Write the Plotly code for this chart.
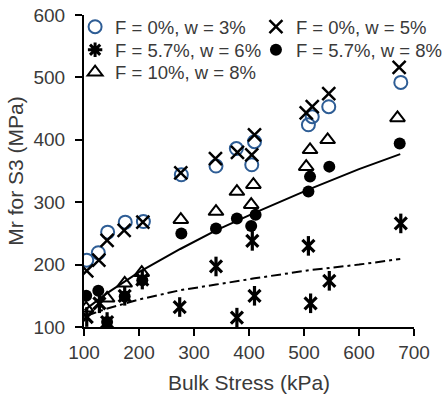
import plotly.graph_objects as go

# ---- data ----
x_f0_w3 = [105, 126, 143, 175, 208, 277, 340, 377, 405, 410, 508, 515, 545, 676]
y_f0_w3 = [207, 219, 252, 268, 269, 344, 358, 386, 360, 397, 424, 437, 453, 492]

x_f0_w5 = [105, 127, 142, 173, 207, 276, 339, 379, 405, 410, 504, 515, 545, 673]
y_f0_w5 = [190, 207, 239, 255, 268, 347, 370, 380, 376, 408, 443, 453, 474, 516]

x_f57_w6 = [105, 128, 142, 174, 206, 274, 340, 378, 406, 410, 508, 512, 546, 676]
y_f57_w6 = [116, 138, 108, 150, 176, 132, 197, 115, 238, 150, 230, 138, 174, 266]

x_f57_w8 = [104, 126, 142, 174, 206, 277, 340, 378, 404, 412, 508, 511, 546, 674]
y_f57_w8 = [150, 158, 108, 149, 175, 250, 258, 274, 262, 280, 317, 341, 357, 394]

x_f10_w8 = [104, 142, 174, 205, 276, 340, 378, 404, 408, 504, 511, 543, 670]
y_f10_w8 = [130, 146, 170, 187, 272, 285, 317, 296, 328, 357, 384, 400, 435]

# trend lines
x_trend_solid = [101, 140, 200, 275, 340, 410, 510, 600, 675]
y_trend_solid = [127, 153, 188, 225, 255, 283, 321, 353, 377]
x_trend_dashdot = [105, 140, 200, 275, 340, 410, 510, 600, 675]
y_trend_dashdot = [118, 129, 144, 159, 168, 178, 191, 200, 209]

x_ticks = [100, 200, 300, 400, 500, 600, 700]
y_ticks = [100, 200, 300, 400, 500, 600]

FONT = "Liberation Sans, Arial, sans-serif"
TXT = "#3a3a3a"
BLUE = "#2E5D95"
LEG_SIZE = 18.5

fig = go.Figure()

fig.add_trace(go.Scatter(x=x_trend_solid, y=y_trend_solid, mode="lines",
                         line=dict(color="black", width=2), showlegend=False, hoverinfo="skip"))
fig.add_trace(go.Scatter(x=x_trend_dashdot, y=y_trend_dashdot, mode="lines",
                         line=dict(color="black", width=2, dash="10px,4px,3px,4px"),
                         showlegend=False, hoverinfo="skip"))

fig.add_trace(go.Scatter(x=x_f0_w3, y=y_f0_w3, mode="markers", name="F = 0%, w = 3%",
                         legend="legend",
                         marker=dict(symbol="circle-open", size=13, color=BLUE,
                                     line=dict(width=2, color=BLUE))))
fig.add_trace(go.Scatter(x=x_f0_w5, y=y_f0_w5, mode="markers", name="F = 0%, w = 5%",
                         legend="legend2",
                         marker=dict(symbol="x-thin-open", size=13, color="black",
                                     line=dict(width=2.5, color="black"))))
# six-armed star: an x plus a vertical stroke
fig.add_trace(go.Scatter(x=x_f57_w6, y=y_f57_w6, mode="markers", showlegend=False,
                         hoverinfo="skip",
                         marker=dict(symbol="x-thin-open", size=12, color="black",
                                     line=dict(width=3.2, color="black"))))
fig.add_trace(go.Scatter(x=x_f57_w6, y=y_f57_w6, mode="markers", showlegend=False,
                         hoverinfo="skip",
                         marker=dict(symbol="line-ns-open", size=14, color="black",
                                     line=dict(width=3.2, color="black"))))
# legend entry for the star series
fig.add_trace(go.Scatter(x=[None], y=[None], mode="markers", name="F = 5.7%, w = 6%",
                         legend="legend3",
                         marker=dict(symbol="asterisk-open", size=12, color="black",
                                     line=dict(width=3, color="black"))))
fig.add_trace(go.Scatter(x=x_f57_w8, y=y_f57_w8, mode="markers", name="F = 5.7%, w = 8%",
                         legend="legend4",
                         marker=dict(symbol="circle", size=12, color="black",
                                     line=dict(width=0))))
fig.add_trace(go.Scatter(x=x_f10_w8, y=y_f10_w8, mode="markers", name="F = 10%, w = 8%",
                         legend="legend5",
                         marker=dict(symbol="triangle-up-open", size=13, color="black",
                                     line=dict(width=2, color="black"))))


def leg(x, y):
    return dict(orientation="v", x=x, y=y, xanchor="left", yanchor="middle",
                itemwidth=30, bgcolor="rgba(0,0,0,0)", borderwidth=0,
                font=dict(family=FONT, size=LEG_SIZE, color=TXT))


COL1, COL2 = -0.027, 0.521
ROW1, ROW2, ROW3 = 0.961, 0.887, 0.815

fig.update_layout(
    width=448, height=394,
    margin=dict(l=84, r=34, t=15, b=67, autoexpand=False),
    paper_bgcolor="white", plot_bgcolor="white",
    font=dict(family=FONT, size=19, color=TXT),
    legend=leg(COL1, ROW1),
    legend2=leg(COL2, ROW1),
    legend3=leg(COL1, ROW2),
    legend4=leg(COL2, ROW2),
    legend5=leg(COL1, ROW3),
    xaxis=dict(range=[100, 700], tickvals=x_ticks, ticks="outside", ticklen=7,
               tickcolor="black", tickwidth=2, showline=True, linecolor="black", linewidth=2,
               showgrid=False, zeroline=False, ticklabeloverflow="allow",
               tickfont=dict(family=FONT, size=19, color=TXT),
               title=dict(text="Bulk Stress (kPa)", font=dict(family=FONT, size=21, color=TXT),
                          standoff=15)),
    yaxis=dict(range=[100, 600], tickvals=y_ticks, ticks="outside", ticklen=7,
               tickcolor="black", tickwidth=2, showline=True, linecolor="black", linewidth=2,
               showgrid=False, zeroline=False, ticklabelstandoff=6,
               ticklabeloverflow="allow",
               tickfont=dict(family=FONT, size=19, color=TXT),
               title=dict(text="Mr for S3 (MPa)", font=dict(family=FONT, size=21, color=TXT),
                          standoff=4)),
)

# remove the browser's default 8px page margin so the figure fills the window
fig.write_html("out.html", config={"displayModeBar": False},
               post_script="document.body.style.margin='0';")
